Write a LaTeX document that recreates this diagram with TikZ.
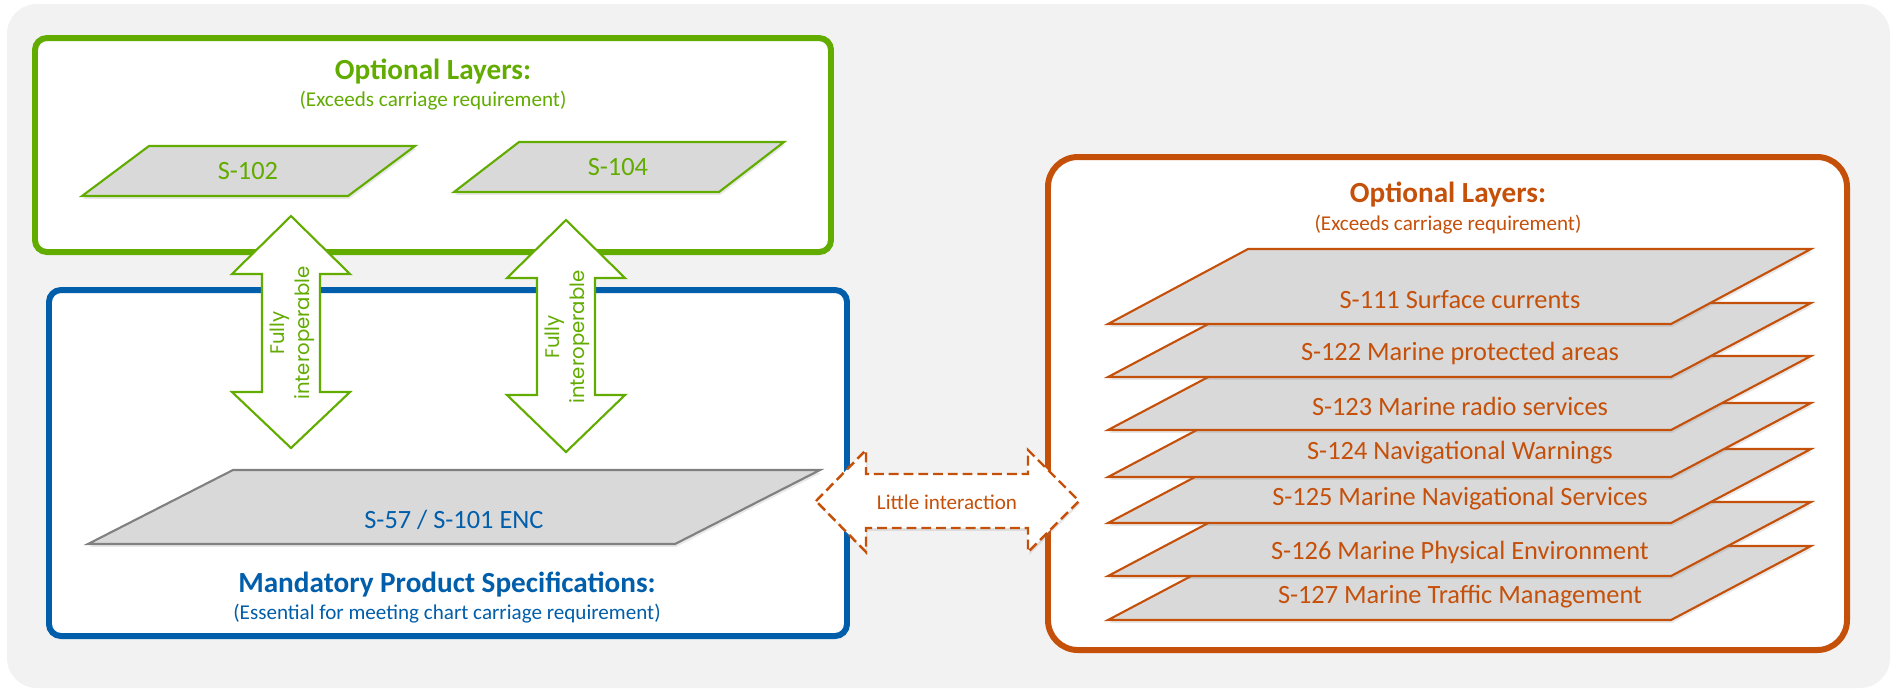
\documentclass[tikz,border=0pt]{standalone}
\usepackage{fontspec}
\setmainfont{Carlito}
\newfontfamily\arrowfont{Poppins}
\usetikzlibrary{shadows}

\definecolor{optgreen}{RGB}{98,172,0}
\definecolor{mandblue}{RGB}{0,94,170}
\definecolor{optorange}{RGB}{197,80,10}
\definecolor{layergray}{RGB}{217,217,217}
\definecolor{bggray}{RGB}{242,242,242}

\begin{document}
\begin{tikzpicture}[x=0.01cm,y=-0.01cm,
    softshadow/.style={drop shadow={shadow xshift=0.4pt,shadow yshift=-0.8pt,opacity=0.18}},
    panel/.style={line width=1.7pt,fill=white,rounded corners=3.4pt,softshadow},
    layer/.style={line width=0.6pt,fill=layergray,softshadow},
    blockarrow/.style={line width=0.6pt,fill=white,line join=miter},
    title/.style={inner sep=0pt,font=\fontsize{8.3}{10}\selectfont\bfseries},
    subtitle/.style={inner sep=0pt,font=\fontsize{6}{7}\selectfont},
    layertext/.style={inner sep=0pt,font=\fontsize{7.5}{9}\selectfont},
    arrowtext/.style={inner sep=0pt,align=center,rotate=90,text=optgreen,
      font=\arrowfont\fontsize{5.6}{7.2}\selectfont}]
    \useasboundingbox (0,0) rectangle (1893,690);
    %background
    \fill [bggray,rounded corners=8.5pt] (7,4) rectangle (1890,688);

    %panels
    \draw [panel,draw=optgreen] (35,38) rectangle (831,252);
    \draw [panel,draw=mandblue] (49,290) rectangle (847,636);
    \draw [panel,draw=optorange,rounded corners=8.5pt] (1048,157) rectangle (1847,650);

    %optional layers (green)
    \node [title,text=optgreen] (greentitle) at (433,72) {Optional Layers:};
    \node [subtitle,text=optgreen] (greensub) at (433,101) {(Exceeds carriage requirement)};
    \draw [layer,draw=optgreen] (149,146) -- (415,146) -- (348,196) -- (82,196) -- cycle;
    \node [layertext,text=optgreen] (s102) at (248,171) {S-102};
    \draw [layer,draw=optgreen] (519,142) -- (784,142) -- (719,192) -- (454,192) -- cycle;
    \node [layertext,text=optgreen] (s104) at (618,167) {S-104};

    %mandatory
    \draw [layer,draw=gray] (233,470) -- (820,470) -- (675,544) -- (88,544) -- cycle;
    \node [layertext,text=mandblue] (s57) at (454,520) {S-57 / S-101 ENC};
    \node [title,text=mandblue] (bluetitle) at (447,585) {Mandatory Product Specifications:};
    \node [subtitle,text=mandblue] (bluesub) at (447,614) {(Essential for meeting chart carriage requirement)};

    %optional layers (orange), bottom sheet first
    \node [title,text=optorange] (orangetitle) at (1448,195) {Optional Layers:};
    \node [subtitle,text=optorange] (orangesub) at (1448,225) {(Exceeds carriage requirement)};
    \draw [layer,draw=optorange] (1248,546) -- ++(563,0) -- ++(-140,74) -- ++(-563,0) -- cycle;
    \node [layertext,text=optorange] (s127) at (1460,597) {S-127 Marine Traffic Management};
    \draw [layer,draw=optorange] (1248,502) -- ++(563,0) -- ++(-140,74) -- ++(-563,0) -- cycle;
    \node [layertext,text=optorange] (s126) at (1460,552) {S-126 Marine Physical Environment};
    \draw [layer,draw=optorange] (1248,449) -- ++(563,0) -- ++(-140,74) -- ++(-563,0) -- cycle;
    \node [layertext,text=optorange] (s125) at (1460,499) {S-125 Marine Navigational Services};
    \draw [layer,draw=optorange] (1248,403) -- ++(563,0) -- ++(-140,74) -- ++(-563,0) -- cycle;
    \node [layertext,text=optorange] (s124) at (1460,453) {S-124 Navigational Warnings};
    \draw [layer,draw=optorange] (1248,356) -- ++(563,0) -- ++(-140,74) -- ++(-563,0) -- cycle;
    \node [layertext,text=optorange] (s123) at (1460,406) {S-123 Marine radio services};
    \draw [layer,draw=optorange] (1248,303) -- ++(563,0) -- ++(-140,74) -- ++(-563,0) -- cycle;
    \node [layertext,text=optorange] (s122) at (1460,353) {S-122 Marine protected areas};
    \draw [layer,draw=optorange] (1248,249) -- ++(563,0) -- ++(-140,75) -- ++(-563,0) -- cycle;
    \node [layertext,text=optorange] (s111) at (1460,300) {S-111 Surface currents};

    %double arrows
    \draw [blockarrow,draw=optgreen] (291,216) -- (350,274) -- (320,274) -- (320,392) -- (350,392)
      -- (291,448) -- (232,392) -- (262,392) -- (262,274) -- (232,274) -- cycle;
    \node [arrowtext] (interop1) at (292,333) {Fully\\interoperable};
    \draw [blockarrow,draw=optgreen] (566,220) -- (625,278) -- (595,278) -- (595,395) -- (625,395)
      -- (566,452) -- (507,395) -- (537,395) -- (537,278) -- (507,278) -- cycle;
    \node [arrowtext] (interop2) at (567,337) {Fully\\interoperable};
    \draw [blockarrow,draw=optorange,line width=0.7pt,dash pattern=on 2.8pt off 1.4pt,softshadow]
      (816,501) -- (866,450) -- (866,474) -- (1028,474) -- (1028,450) -- (1079,501)
      -- (1028,552) -- (1028,528) -- (866,528) -- (866,552) -- cycle;
    \node [subtitle,text=optorange] (little) at (947,502) {Little interaction};
\end{tikzpicture}
\end{document}
